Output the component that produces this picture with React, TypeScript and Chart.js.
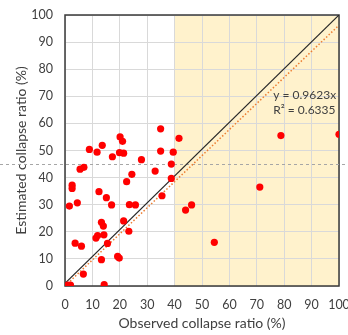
import React, { useEffect, useRef } from "react";
import { Chart, registerables } from "chart.js";

Chart.register(...registerables);

// Observed (x) and estimated (y) collapse ratios (%)
const observed = [
  1.0, 2.0, 1.6, 2.6, 2.6, 4.5, 3.7, 6.0, 6.7, 5.5, 6.9, 8.9, 11.7, 13.6, 17.3, 20.1, 21.0, 19.9, 21.4,
  27.9, 34.9, 34.9, 39.5, 38.8, 41.6, 32.9, 24.4, 22.5, 38.8, 35.4, 23.5, 25.7, 12.4, 15.1, 17.0, 13.3,
  14.0, 11.3, 11.9, 14.2, 15.5, 13.3, 19.2, 19.8, 14.3, 21.4, 23.3, 44.0, 46.2, 54.5, 71.1, 78.8, 100.0,
];
const estimated = [
  0.3, 0.3, 29.5, 37.2, 36.0, 30.7, 15.8, 14.7, 4.4, 43.1, 43.8, 50.4, 49.4, 51.9, 47.7, 55.0, 53.4, 49.2, 49.0,
  46.6, 58.0, 49.8, 49.4, 45.0, 54.5, 42.4, 41.2, 38.5, 39.7, 33.3, 30.0, 29.9, 34.8, 32.6, 29.9, 23.5,
  22.1, 17.7, 18.6, 18.9, 15.7, 9.7, 10.9, 10.3, 0.5, 24.0, 20.2, 28.0, 29.9, 16.1, 36.5, 55.5, 56.0,
];

const lineX = [0, 100];
const identityY = [1, 100];
const trendSlope = 0.9623;
const trendY = lineX.map((x) => x * trendSlope);
const thresholdY = 45;
const shadeRange = [40, 100];
const axisMin = 0;
const axisMax = 100;
const axisStep = 10;
const eqLabel = "y = 0.9623x";
const r2Label = "R\u00B2 = 0.6335";
const xTitle = "Observed collapse ratio (%)";
const yTitle = "Estimated collapse ratio (%)";

const FONT = "Lato, 'Open Sans', sans-serif";

export default function App() {
  const ref = useRef<HTMLCanvasElement | null>(null);

  useEffect(() => {
    document.body.style.margin = "0";
    const canvas = ref.current;
    if (!canvas) return;

    const decor = {
      id: "decor",
      beforeDraw(chart: any) {
        const { ctx, chartArea } = chart;
        const xs = chart.scales.x;
        const x0 = xs.getPixelForValue(shadeRange[0]);
        const x1 = xs.getPixelForValue(shadeRange[1]);
        ctx.save();
        ctx.fillStyle = "#FFF2CC";
        ctx.fillRect(x0, chartArea.top, x1 - x0, chartArea.bottom - chartArea.top);
        ctx.restore();
      },
      beforeDatasetsDraw(chart: any) {
        const { ctx, chartArea, width } = chart;
        const ys = chart.scales.y;
        ctx.save();
        ctx.strokeStyle = "#3a3a3a";
        ctx.lineWidth = 1.5;
        ctx.strokeRect(chartArea.left, chartArea.top, chartArea.right - chartArea.left, chartArea.bottom - chartArea.top);
        const yy = Math.round(ys.getPixelForValue(thresholdY)) + 0.5;
        ctx.strokeStyle = "#a6a6a6";
        ctx.lineWidth = 1;
        ctx.setLineDash([3, 3]);
        ctx.beginPath();
        ctx.moveTo(0, yy);
        ctx.lineTo(width, yy);
        ctx.stroke();
        ctx.restore();
      },
      afterDatasetsDraw(chart: any) {
        const { ctx } = chart;
        const xs = chart.scales.x;
        const ys = chart.scales.y;
        ctx.save();
        ctx.fillStyle = "#404040";
        ctx.font = "12px " + FONT;
        ctx.textAlign = "left";
        ctx.textBaseline = "middle";
        const tx = xs.getPixelForValue(76);
        ctx.fillText(eqLabel, tx, ys.getPixelForValue(70.5));
        ctx.fillText(r2Label, tx, ys.getPixelForValue(65));
        ctx.restore();
      },
    };

    const chart = new Chart(canvas, {
      type: "scatter",
      data: {
        datasets: [
          {
            label: "points",
            data: observed.map((x, i) => ({ x, y: estimated[i] })),
            backgroundColor: "#ff0000",
            borderColor: "#ff0000",
            pointRadius: 3.6,
            borderWidth: 0,
            order: 0,
          },
          {
            label: "identity",
            data: lineX.map((x, i) => ({ x, y: identityY[i] })),
            showLine: true,
            borderColor: "#262626",
            borderWidth: 1.2,
            pointRadius: 0,
            order: 1,
          },
          {
            label: "trend",
            data: lineX.map((x, i) => ({ x, y: trendY[i] })),
            showLine: true,
            borderColor: "#ED7D31",
            borderWidth: 1.5,
            borderDash: [1.5, 2],
            pointRadius: 0,
            order: 2,
          },
        ],
      },
      options: {
        animation: false,
        responsive: false,
        maintainAspectRatio: false,
        layout: { padding: { top: 15, right: 9, left: 0, bottom: 0 } },
        plugins: { legend: { display: false }, tooltip: { enabled: false } },
        scales: {
          x: {
            type: "linear",
            min: axisMin,
            max: axisMax,
            border: { display: false },
            grid: { color: "#d9d9d9", lineWidth: 1, drawTicks: false },
            ticks: {
              stepSize: axisStep,
              padding: 11,
              color: "#404040",
              maxRotation: 0,
              minRotation: 0,
              autoSkip: false,
              font: { family: FONT, size: 12.5 },
            },
            title: { display: true, text: xTitle, color: "#404040", font: { family: FONT, size: 14 }, padding: { top: 0, bottom: 3 } },
            afterFit(scale: any) {
              scale.height = 49;
              scale.paddingLeft = 0;
              scale.paddingRight = 0;
            },
          },
          y: {
            type: "linear",
            min: axisMin,
            max: axisMax,
            border: { display: false },
            grid: { color: "#d9d9d9", lineWidth: 1, drawTicks: false },
            ticks: { stepSize: axisStep, padding: 12, color: "#404040", autoSkip: false, font: { family: FONT, size: 12.5 } },
            title: { display: true, text: yTitle, color: "#404040", font: { family: FONT, size: 14 }, padding: { top: 13, bottom: 0 } },
            afterFit(scale: any) {
              scale.width = 65;
              scale.paddingTop = 0;
              scale.paddingBottom = 0;
            },
          },
        },
      },
      plugins: [decor],
    });

    return () => chart.destroy();
  }, []);

  return (
    <div style={{ position: "absolute", left: 0, top: 0, width: 348, height: 335 }}>
      <canvas ref={ref} width={348} height={335} style={{ display: "block" }} />
    </div>
  );
}
